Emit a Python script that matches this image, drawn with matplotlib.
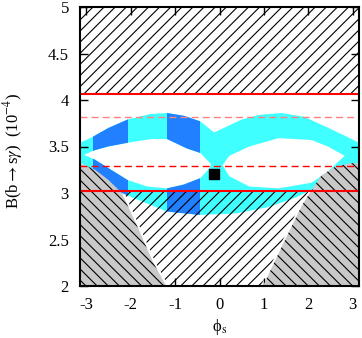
import numpy as np
import matplotlib
matplotlib.use("Agg")
import matplotlib.pyplot as plt
from matplotlib.path import Path
from matplotlib.patches import PathPatch, Polygon

plt.rcParams['font.family'] = ['Liberation Serif', 'DejaVu Serif']
plt.rcParams['mathtext.fontset'] = 'stix'
plt.rcParams['axes.unicode_minus'] = False
plt.rcParams['hatch.linewidth'] = 0.8

PI = np.pi

# ---- data ----
# allowed band: outer envelope
outer_top_phi = [-PI, -2.87, -2.5, -2.07, -1.55, -1.18, -0.8, -0.43, -0.12, 0.1, 0.5, 0.9, 1.4, 1.9, 2.45, 2.89, PI]
outer_top_B   = [3.54, 3.60, 3.70, 3.79, 3.85, 3.86, 3.83, 3.77, 3.65, 3.70, 3.79, 3.84, 3.86, 3.82, 3.70, 3.60, 3.54]
outer_bot_phi = [-PI, -2.8, -2.5, -2.2, -1.85, -1.18, -0.44, 0.37, 1.11, 1.71, 2.16, 2.67, 2.9, PI]
outer_bot_B   = [3.33, 3.22, 3.1, 3.0, 2.93, 2.80, 2.764, 2.78, 2.85, 2.95, 3.055, 3.18, 3.26, 3.33]
# left hole
lhole_up_phi  = [-3.05, -2.81, -2.51, -2.07, -1.55, -1.18, -0.74, -0.43, -0.19]
lhole_up_B    = [3.41, 3.46, 3.50, 3.54, 3.58, 3.58, 3.48, 3.43, 3.31]
lhole_lo_phi  = [-3.05, -2.81, -2.51, -2.07, -1.63, -1.18, -0.81, -0.43, -0.22, -0.19]
lhole_lo_B    = [3.41, 3.36, 3.27, 3.14, 3.07, 3.05, 3.09, 3.16, 3.27, 3.31]
# right hole
rhole_up_phi  = [0.07, 0.22, 0.67, 1.33, 2.07, 2.44, 2.82]
rhole_up_B    = [3.30, 3.40, 3.50, 3.59, 3.57, 3.50, 3.40]
rhole_lo_phi  = [0.07, 0.22, 0.67, 1.33, 2.07, 2.44, 2.82]
rhole_lo_B    = [3.30, 3.18, 3.07, 3.05, 3.11, 3.23, 3.40]
# darker sub-ranges of phi_s
dark_ranges = [(-2.85, -2.07), (-1.18, -0.43)]

# excluded (grey) regions
grey_left_phi  = [-PI, -2.8, -2.5, -2.2, -1.85, -1.5, -1.2, -PI]
grey_left_B    = [3.32, 3.25, 3.14, 3.0, 2.64, 2.26, 2.0, 2.0]
grey_right_phi = [0.98, 1.4, 1.85, 2.07, 2.3, 2.6, 2.93, PI, PI]
grey_right_B   = [2.0, 2.42, 2.86, 3.03, 3.19, 3.28, 3.32, 3.32, 2.0]
# excluded (hatched) region below the measurement
hatch_low_phi = [-2.17, -1.80, -1.45, -1.15, 0.93, 1.35, 1.80, 2.02]
hatch_low_B   = [3.026, 2.64, 2.26, 2.0, 2.0, 2.42, 2.86, 3.026]

# experimental bounds
exp_upper = 4.064
exp_lower = 3.026
exp_dash = 3.295
exp_dash_light = 3.812

sm_phi, sm_B = -0.12, 3.20

xticks = [-3, -2, -1, 0, 1, 2, 3]
xticklabels = ['-3', '-2', '-1', '0', '1', '2', '3']
yticks = [2, 2.5, 3, 3.5, 4, 4.5, 5]
yticklabels = ['2', '2.5', '3', '3.5', '4', '4.5', '5']

CYAN = '#40ffff'
BLUE = '#2080ff'
GREY = '#c8c8c8'

fig = plt.figure(figsize=(3.62, 3.38), dpi=100)
ax = fig.add_axes([80/362, 52/338, 279/362, 279/338])
ax.set_xlim(-PI, PI)
ax.set_ylim(2, 5)

# band with two holes
outer_x = list(outer_top_phi) + list(outer_bot_phi[::-1])
outer_y = list(outer_top_B) + list(outer_bot_B[::-1])
lh_x = list(lhole_lo_phi) + list(lhole_up_phi[::-1])
lh_y = list(lhole_lo_B) + list(lhole_up_B[::-1])
rh_x = list(rhole_lo_phi) + list(rhole_up_phi[::-1])
rh_y = list(rhole_lo_B) + list(rhole_up_B[::-1])

verts, codes = [], []
for xs, ys in [(outer_x, outer_y), (lh_x, lh_y), (rh_x, rh_y)]:
    pts = list(zip(xs, ys))
    verts += pts + [pts[0]]
    codes += [Path.MOVETO] + [Path.LINETO] * (len(pts) - 1) + [Path.CLOSEPOLY]
band = PathPatch(Path(verts, codes), facecolor=CYAN, edgecolor='none', lw=0, zorder=1)
ax.add_patch(band)
for x0, x1 in dark_ranges:
    r = ax.axvspan(x0, x1, facecolor=BLUE, edgecolor='none', lw=0, zorder=1.1)
    r.set_clip_path(band)

# hatched excluded regions
ax.axhspan(exp_upper, 5, facecolor='none', edgecolor='black', hatch='///', lw=0, zorder=2)
ax.add_patch(Polygon(np.column_stack([hatch_low_phi, hatch_low_B]), closed=True,
                     facecolor='none', edgecolor='black', hatch='///', lw=0, zorder=2))
for gx, gy in [(grey_left_phi, grey_left_B), (grey_right_phi, grey_right_B)]:
    xy = np.column_stack([gx, gy])
    ax.add_patch(Polygon(xy, closed=True, facecolor=GREY, edgecolor='none', lw=0, zorder=3))
    ax.add_patch(Polygon(xy, closed=True, facecolor='none', edgecolor='black',
                         hatch='\\\\\\', lw=0, zorder=3.1))

# experimental lines
ax.axhline(exp_upper, color='#ff0000', lw=1.5, zorder=4)
ax.axhline(exp_lower, color='#ff0000', lw=1.5, zorder=4)
ax.axhline(exp_dash, color='#ff0000', lw=1.0, ls=(0, (5, 3)), zorder=4)
ax.axhline(exp_dash_light, color='#ff8080', lw=1.0, ls=(0, (5, 3)), zorder=4)

ax.plot([sm_phi], [sm_B], marker='s', color='black', markersize=7.5, ls='none', zorder=5)

ax.set_xticks(xticks)
ax.set_xticklabels(xticklabels)
ax.set_yticks(yticks)
ax.set_yticklabels(yticklabels)
ax.tick_params(direction='in', top=True, right=True, length=6, width=1, labelsize=12, pad=8)
for s in ax.spines.values():
    s.set_linewidth(1.5)
    s.set_zorder(6)

ax.set_xlabel('ϕ$_{\\mathrm{s}}$', fontsize=12, labelpad=3)
ax.set_ylabel(r'B(b$\rightarrow$s$\gamma$)  (10$^{-4}$)', fontsize=12)
ax.yaxis.set_label_coords(-0.198, 0.485)

fig.savefig('out.png', dpi=100)
